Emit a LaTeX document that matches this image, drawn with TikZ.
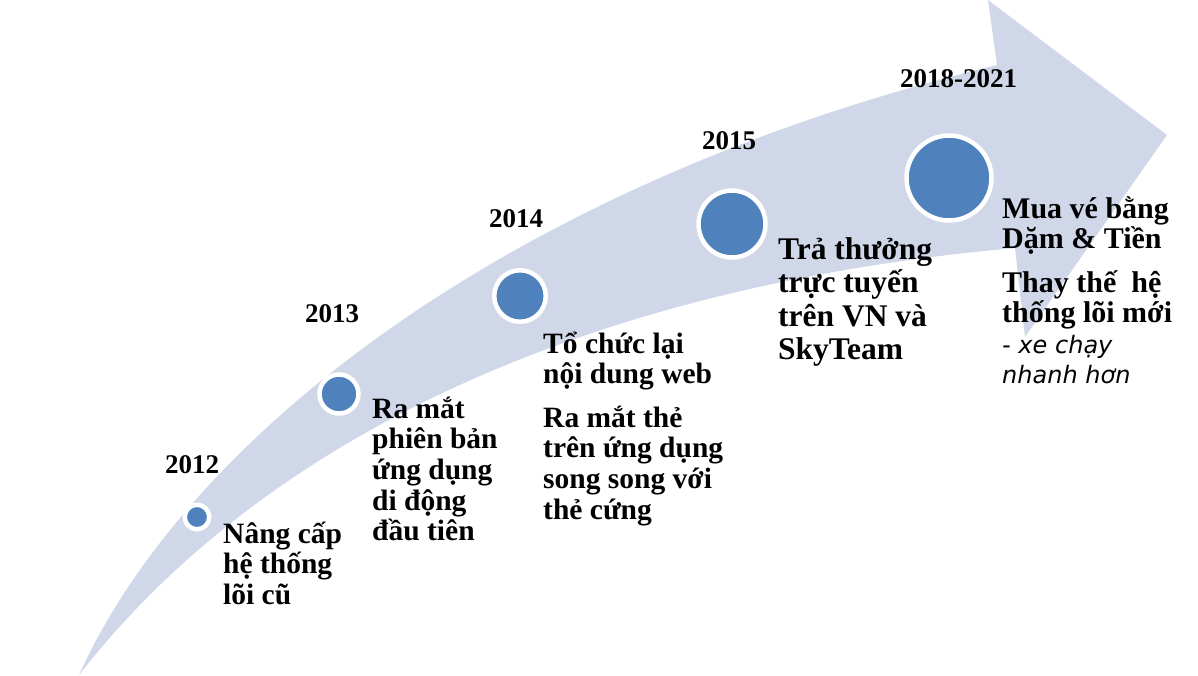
\documentclass[tikz,border=0pt]{standalone}
\usepackage{fontspec}
\setmainfont{Liberation Serif}
\newfontfamily\notefont{DejaVu Sans}
\usetikzlibrary{positioning}
\definecolor{bandfill}{RGB}{207,215,232}
\definecolor{dotfill}{RGB}{79,129,189}
\tikzset{
  dot/.style={circle, fill=dotfill, draw=white, line width=4.5pt, inner sep=0pt},
  year/.style={anchor=base west, inner sep=0pt, font=\fontsize{27}{30}\selectfont\bfseries},
  event/.style={anchor=base west, inner sep=0pt, align=left, font=\fontsize{29.5}{30.7}\selectfont\bfseries},
  note/.style={anchor=base west, inner sep=0pt, align=left, font=\notefont\fontsize{24}{30}\selectfont\itshape}
}
\begin{document}
\begin{tikzpicture}[x=1pt,y=-1pt]
  \useasboundingbox (0,0) rectangle (1198,675);
  % the big curved arrow
  \fill[bandfill] (79,675) .. controls (190,430) and (520,180) .. (997,65)
    -- (988,0) -- (1167,135) -- (1025,337) -- (1015,248)
    .. controls (600,285) and (270,430) .. (79,675) -- cycle;
  % milestones
  \node[dot, minimum size=24.5pt] (c12) at (197,517) {};
  \node[dot, minimum size=39pt] (c13) at (339,394) {};
  \node[dot, minimum size=51.5pt] (c14) at (520,296) {};
  \node[dot, minimum size=67pt] (c15) at (732,224) {};
  \node[dot, minimum size=85pt] (c18) at (949,178) {};
  % years
  \node[year] (y12) at (165,473) {2012};
  \node[year] (y13) at (305,322) {2013};
  \node[year] (y14) at (489,227) {2014};
  \node[year] (y15) at (702,149) {2015};
  \node[year] (y18) at (900,87) {2018-2021};
  % events (placed at the baseline of their last line)
  \node[event] (e12) at (223,604.4) {Nâng cấp\\hệ thống\\lõi cũ};
  \node[event] (e13) at (372,540.8) {Ra mắt\\phiên bản\\ứng dụng\\di động\\đầu tiên};
  \node[event] (e14a) at (543,383.7) {Tổ chức lại\\nội dung web};
  \node[event] (e14b) at (543,519.1) {Ra mắt thẻ\\trên ứng dụng\\song song với\\thẻ cứng};
  \node[event, font=\fontsize{31.5}{33.5}\selectfont\bfseries] (e15) at (778,359.5) {Trả thưởng\\trực tuyến\\trên VN và\\SkyTeam};
  \node[event, font=\fontsize{30}{30.5}\selectfont\bfseries] (e18a) at (1002,248.5) {Mua vé bằng\\Dặm \& Tiền};
  \node[event, font=\fontsize{30}{30.5}\selectfont\bfseries] (e18b) at (1002,322.5) {Thay thế\ \ hệ\\thống lõi mới};
  \node[note] (e18c) at (1002,383) {- xe chạy\\nhanh hơn};
\end{tikzpicture}
\end{document}
